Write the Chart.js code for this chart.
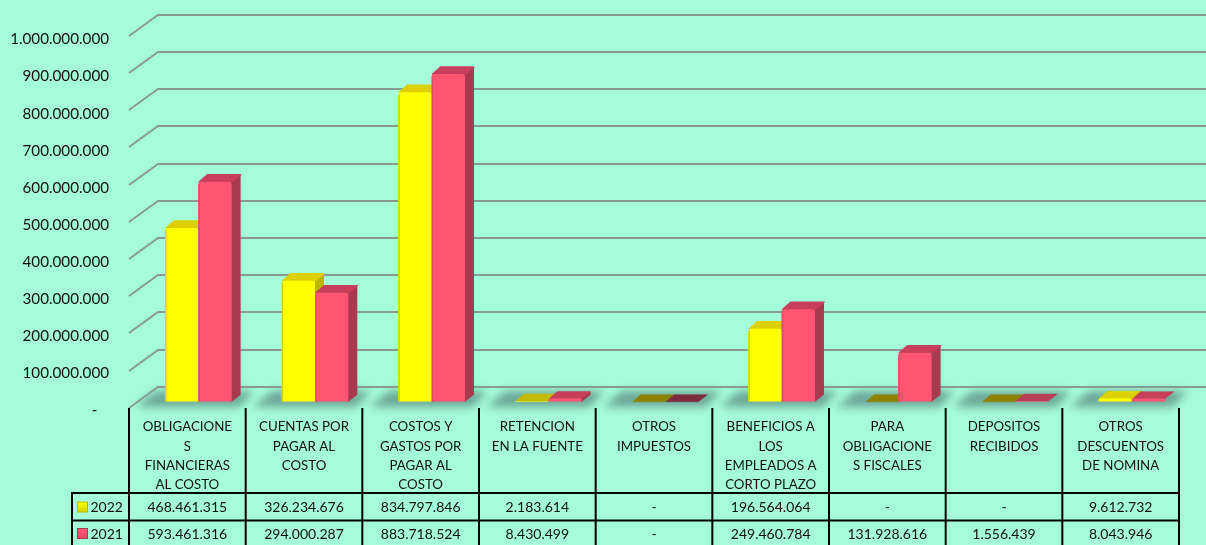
<!DOCTYPE html>
<html><head><meta charset="utf-8">
<script src="https://cdn.jsdelivr.net/npm/chart.js@4"></script>
<style>html,body{margin:0;padding:0;background:#A5FCD9;overflow:hidden}canvas{display:block}</style>
</head><body><canvas id="c" width="1206" height="545"></canvas>
<script>
const categories = [
  ['OBLIGACIONE','S','FINANCIERAS','AL COSTO'],
  ['CUENTAS POR','PAGAR AL','COSTO'],
  ['COSTOS Y','GASTOS POR','PAGAR AL','COSTO'],
  ['RETENCION','EN LA FUENTE'],
  ['OTROS','IMPUESTOS'],
  ['BENEFICIOS A','LOS','EMPLEADOS A','CORTO PLAZO'],
  ['PARA','OBLIGACIONE','S FISCALES'],
  ['DEPOSITOS','RECIBIDOS'],
  ['OTROS','DESCUENTOS','DE NOMINA']
];
const values2022 = [468461315,326234676,834797846,2183614,0,196564064,0,0,9612732];
const values2021 = [593461316,294000287,883718524,8430499,0,249460784,131928616,1556439,8043946];

const FONT = 'Lato, Carlito, sans-serif';
const fmt = v => v === 0 ? '-' : String(v).replace(/\B(?=(\d{3})+$)/g,'.');
const DX = 9, DY = 7, SHIFT = 11;
const looks = [
  {front:'#FFFF00', edge:'#D2D200', side:'#BDB500', top:'#DDD000', low:'#C4BC00', none:'#8C8200'},
  {front:'#FF5572', edge:'#E04A64', side:'#A83A50', top:'#C83F5C', low:'#B83E58', none:'#7E2A3E'}
];

const scene3d = {
  id:'scene3d',
  beforeDatasetsDraw(ch){
    const c = ch.ctx, y = ch.scales.y, x = ch.scales.x;
    const x0 = x.left - SHIFT, zero = y.getPixelForValue(0);
    c.save();
    // back wall lines and the left wall diagonals
    c.strokeStyle = '#8A9A92'; c.lineWidth = 2;
    y.ticks.forEach(t => {
      const py = Math.round(zero - 15 - (zero - y.getPixelForValue(t.value)) * 1.0035);
      c.beginPath();
      c.moveTo(x0, py + 21); c.lineTo(x0 + 29, py); c.lineTo(ch.width, py);
      c.stroke();
    });
    // floor shadow of each cluster
    c.filter = 'blur(4px)';
    c.fillStyle = '#6BA898';
    categories.forEach((_, i) => {
      const m = x.getPixelForTick(i);
      c.beginPath();
      c.moveTo(m - 62, 407); c.lineTo(m + 41, 407); c.lineTo(m + 56, 391); c.lineTo(m - 43, 391);
      c.closePath(); c.fill();
    });
    c.filter = 'none';
    // tops and sides behind the front faces
    c.lineJoin = 'round';
    [0,1].forEach(d => {
      const L = looks[d], meta = ch.getDatasetMeta(d), data = ch.data.datasets[d].data;
      meta.data.forEach((b, i) => {
        const v = data[i], l = b.x - b.width/2, r = b.x + b.width/2, t = b.y, base = b.base;
        if (t < base - 3) {
          c.fillStyle = L.side;
          c.beginPath();
          c.moveTo(r - 1, t); c.lineTo(r + DX, t - DY); c.lineTo(r + DX, base - DY); c.lineTo(r, base); c.lineTo(r - 1, base);
          c.closePath(); c.fill();
        }
        const tone = v === 0 ? L.none : v < 5000000 ? L.low : L.top;
        c.fillStyle = tone; c.strokeStyle = tone; c.lineWidth = v > 30000000 ? 1.5 : 0.5;
        c.beginPath();
        c.moveTo(l + 1, t); c.lineTo(r, t); c.lineTo(r + DX, t - DY); c.lineTo(l + DX, t - DY);
        c.closePath(); c.fill(); c.stroke();
      });
    });
    c.restore();
  },
  afterDatasetsDraw(ch){
    const c = ch.ctx;
    c.save(); c.lineWidth = 1.5;
    [0,1].forEach(d => {
      c.strokeStyle = looks[d].edge;
      ch.getDatasetMeta(d).data.forEach(b => {
        if (b.base - b.y < 4) return;
        const l = b.x - b.width/2 + 0.75;
        c.beginPath(); c.moveTo(l, b.y + 2); c.lineTo(l, b.base); c.stroke();
      });
    });
    c.restore();
  }
};

const dataTable = {
  id:'dataTable',
  afterDraw(ch){
    const c = ch.ctx, x = ch.scales.x, sets = ch.data.datasets;
    const step = x.getPixelForTick(1) - x.getPixelForTick(0);
    const first = x.getPixelForTick(0) - SHIFT - step/2;
    const col = i => first + i * step;
    const rowLines = [493, 520.5], rowMid = [507.5, 534], bottom = 545;
    const leftEdge = 72;
    c.save();
    c.strokeStyle = '#000'; c.lineWidth = 2;
    for (let i = 0; i <= categories.length; i++) {
      c.beginPath(); c.moveTo(col(i), 408); c.lineTo(col(i), bottom); c.stroke();
    }
    c.beginPath(); c.moveTo(leftEdge, rowLines[0]); c.lineTo(leftEdge, bottom); c.stroke();
    rowLines.forEach(r => { c.beginPath(); c.moveTo(leftEdge - 1, r); c.lineTo(col(categories.length) + 1, r); c.stroke(); });
    c.fillStyle = '#111'; c.font = '14px ' + FONT; c.textBaseline = 'middle';
    sets.forEach((s, d) => {
      c.textAlign = 'center';
      c.fillStyle = '#111';
      s.data.forEach((v, i) => c.fillText(fmt(v), col(i) + step/2, rowMid[d]));
      const L = looks[d], gy = rowMid[d] - 6;
      const g = c.createLinearGradient(0, gy, 0, gy + 11);
      g.addColorStop(0, L.front); g.addColorStop(1, L.edge);
      c.fillStyle = L.side; c.fillRect(77, gy, 11, 11);
      c.fillStyle = g; c.fillRect(78, gy + 1, 9, 9);
      c.fillStyle = '#111'; c.textAlign = 'left';
      c.fillText(s.label, 90.5, rowMid[d]);
    });
    c.restore();
  }
};

new Chart(document.getElementById('c'), {
  type:'bar',
  data:{
    labels:categories,
    datasets:[
      {label:'2022', data:values2022, backgroundColor:looks[0].front},
      {label:'2021', data:values2021, backgroundColor:looks[1].front}
    ]
  },
  options:{
    responsive:false, animation:false,
    layout:{padding:{top:31,right:16,left:0,bottom:0}},
    categoryPercentage:0.571, barPercentage:1,
    borderRadius:{topLeft:3,topRight:3,bottomLeft:0,bottomRight:0}, borderSkipped:false,
    plugins:{legend:{display:false},tooltip:{enabled:false},title:{display:false}},
    scales:{
      x:{
        grid:{display:false,drawTicks:false}, border:{display:false},
        afterFit(s){ s.height = 143.3; },
        ticks:{autoSkip:false,maxRotation:0,minRotation:0,padding:16,labelOffset:-SHIFT,color:'#111',
          font:{family:FONT,size:13.3,lineHeight:1.43}}
      },
      y:{
        min:0,max:1000000000,
        grid:{display:false,drawTicks:false}, border:{display:false},
        afterFit(s){ s.width = 140; s.paddingTop = 0; s.paddingBottom = 0; },
        ticks:{stepSize:100000000,padding:31,labelOffset:8.5,color:'#111',
          font:{family:FONT,size:15.2},
          callback:v => v === 0 ? '-   ' : fmt(v)}
      }
    }
  },
  plugins:[scene3d,dataTable]
});
</script></body></html>
